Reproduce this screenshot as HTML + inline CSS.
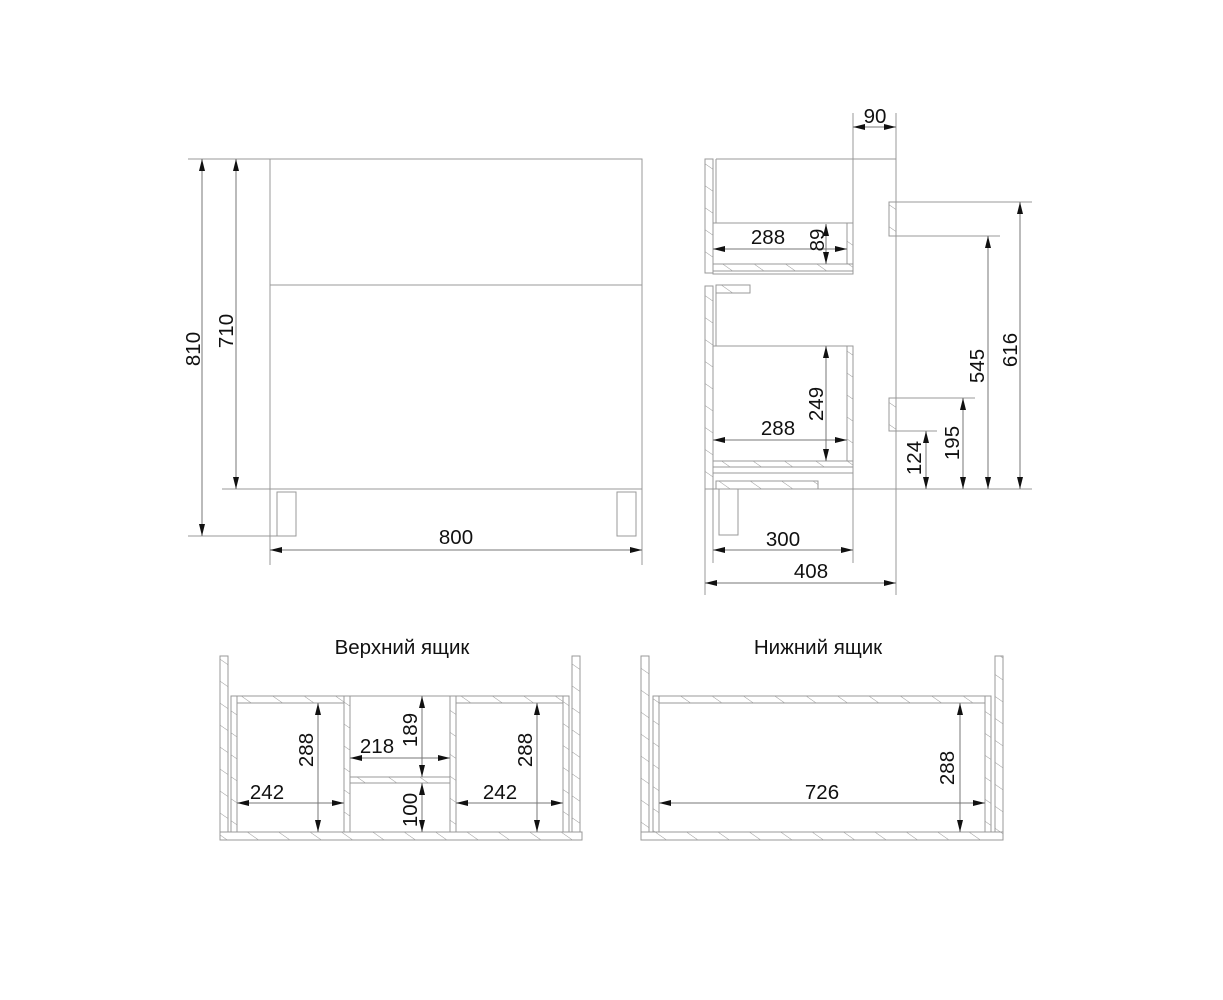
<!DOCTYPE html>
<html><head><meta charset="utf-8"><style>
html,body{margin:0;padding:0;background:#fff;}
svg{display:block;}
text{font-family:"Liberation Sans","DejaVu Sans",sans-serif;font-size:20.5px;fill:#111;}
</style></head><body>
<svg width="1223" height="1000" viewBox="0 0 1223 1000" xmlns="http://www.w3.org/2000/svg">
<defs>
<pattern id="h" patternUnits="userSpaceOnUse" width="18" height="18" patternTransform="rotate(-55)">
<rect width="18" height="18" fill="#fff"/><line x1="0" y1="0" x2="0" y2="18" stroke="#999" stroke-width="1"/>
</pattern>
<marker id="a" viewBox="0 0 12 6" refX="12" refY="3" markerWidth="12" markerHeight="6" orient="auto-start-reverse" markerUnits="userSpaceOnUse">
<path d="M0,0 L12,3 L0,6 Z" fill="#111"/></marker>
</defs>
<g fill="none" stroke="#999" stroke-width="1">
<rect x="270" y="159" width="372" height="330"/>
<line x1="270" y1="285" x2="642" y2="285"/>
<rect x="277" y="492" width="19" height="44"/>
<rect x="617" y="492" width="19" height="44"/>
<line x1="188" y1="159" x2="278" y2="159"/>
<line x1="188" y1="536" x2="278" y2="536"/>
<line x1="222" y1="489" x2="270" y2="489"/>
<line x1="270" y1="489" x2="270" y2="565"/>
<line x1="642" y1="489" x2="642" y2="565"/>
<rect x="705" y="159" width="8" height="114" fill="url(#h)"/>
<rect x="705" y="286" width="8" height="203" fill="url(#h)"/>
<line x1="716" y1="159" x2="896" y2="159"/>
<line x1="716" y1="159" x2="716" y2="223"/>
<line x1="716" y1="286" x2="716" y2="346"/>
<line x1="853" y1="113" x2="853" y2="223"/>
<line x1="896" y1="113" x2="896" y2="595"/>
<rect x="713" y="223" width="140" height="51"/>
<rect x="847" y="223" width="6" height="48" fill="url(#h)"/>
<rect x="713" y="264" width="140" height="7" fill="url(#h)"/>
<rect x="716" y="285" width="34" height="8" fill="url(#h)"/>
<rect x="713" y="346" width="140" height="127" fill="none"/>
<rect x="847" y="346" width="6" height="117" fill="url(#h)"/>
<rect x="713" y="461" width="140" height="6" fill="url(#h)"/>
<rect x="716" y="481" width="102" height="8" fill="url(#h)"/>
<rect x="719" y="489" width="19" height="46"/>
<rect x="889" y="202" width="7" height="34" fill="url(#h)"/>
<rect x="889" y="398" width="7" height="33" fill="url(#h)"/>
<line x1="896" y1="202" x2="1032" y2="202"/>
<line x1="896" y1="236" x2="1000" y2="236"/>
<line x1="896" y1="398" x2="975" y2="398"/>
<line x1="896" y1="431" x2="937" y2="431"/>
<line x1="705" y1="489" x2="1032" y2="489"/>
<line x1="713" y1="489" x2="713" y2="563"/>
<line x1="853" y1="473" x2="853" y2="563"/>
<line x1="705" y1="489" x2="705" y2="595"/>
<rect x="220" y="656" width="8" height="176" fill="url(#h)"/>
<rect x="572" y="656" width="8" height="176" fill="url(#h)"/>
<rect x="220" y="832" width="362" height="8" fill="url(#h)"/>
<rect x="231" y="696" width="119" height="7" fill="url(#h)"/>
<rect x="231" y="696" width="6" height="136" fill="url(#h)"/>
<rect x="344" y="696" width="6" height="136" fill="url(#h)"/>
<rect x="450" y="696" width="119" height="7" fill="url(#h)"/>
<rect x="450" y="696" width="6" height="136" fill="url(#h)"/>
<rect x="563" y="696" width="6" height="136" fill="url(#h)"/>
<line x1="350" y1="696" x2="450" y2="696"/>
<line x1="422" y1="696" x2="422" y2="777"/>
<rect x="350" y="777" width="100" height="6" fill="url(#h)"/>
<rect x="641" y="656" width="8" height="176" fill="url(#h)"/>
<rect x="995" y="656" width="8" height="176" fill="url(#h)"/>
<rect x="641" y="832" width="362" height="8" fill="url(#h)"/>
<rect x="653" y="696" width="338" height="7" fill="url(#h)"/>
<rect x="653" y="696" width="6" height="136" fill="url(#h)"/>
<rect x="985" y="696" width="6" height="136" fill="url(#h)"/>
</g>
<g stroke="#777" stroke-width="1" marker-start="url(#a)" marker-end="url(#a)">
<line x1="202" y1="159" x2="202" y2="536"/>
<line x1="236" y1="159" x2="236" y2="489"/>
<line x1="270" y1="550" x2="642" y2="550"/>
<line x1="853" y1="127" x2="896" y2="127"/>
<line x1="713" y1="249" x2="847" y2="249"/>
<line x1="826" y1="224" x2="826" y2="264"/>
<line x1="826" y1="346" x2="826" y2="461"/>
<line x1="713" y1="440" x2="847" y2="440"/>
<line x1="713" y1="550" x2="853" y2="550"/>
<line x1="705" y1="583" x2="896" y2="583"/>
<line x1="1020" y1="202" x2="1020" y2="489"/>
<line x1="988" y1="236" x2="988" y2="489"/>
<line x1="963" y1="398" x2="963" y2="489"/>
<line x1="926" y1="431" x2="926" y2="489"/>
<line x1="318" y1="703" x2="318" y2="832"/>
<line x1="237" y1="803" x2="344" y2="803"/>
<line x1="350" y1="758" x2="450" y2="758"/>
<line x1="422" y1="696" x2="422" y2="777"/>
<line x1="422" y1="783" x2="422" y2="832"/>
<line x1="537" y1="703" x2="537" y2="832"/>
<line x1="456" y1="803" x2="563" y2="803"/>
<line x1="659" y1="803" x2="985" y2="803"/>
<line x1="960" y1="703" x2="960" y2="832"/>
</g>
<g text-anchor="middle">
<text x="456" y="544">800</text>
<text transform="translate(200,349) rotate(-90)">810</text>
<text transform="translate(233,331) rotate(-90)">710</text>
<text x="875" y="123">90</text>
<text x="768" y="244">288</text>
<text transform="translate(824,240) rotate(-90)">89</text>
<text transform="translate(823,404) rotate(-90)">249</text>
<text x="778" y="435">288</text>
<text x="783" y="546">300</text>
<text x="811" y="578">408</text>
<text transform="translate(1017,350) rotate(-90)">616</text>
<text transform="translate(984,366) rotate(-90)">545</text>
<text transform="translate(959,443) rotate(-90)">195</text>
<text transform="translate(921,458) rotate(-90)">124</text>
<text x="402" y="654">Верхний ящик</text>
<text x="818" y="654">Нижний ящик</text>
<text transform="translate(313,750) rotate(-90)">288</text>
<text x="267" y="799">242</text>
<text x="377" y="753">218</text>
<text transform="translate(417,730) rotate(-90)">189</text>
<text transform="translate(417,810) rotate(-90)">100</text>
<text transform="translate(532,750) rotate(-90)">288</text>
<text x="500" y="799">242</text>
<text x="822" y="799">726</text>
<text transform="translate(954,768) rotate(-90)">288</text>
</g>
</svg>
</body></html>
